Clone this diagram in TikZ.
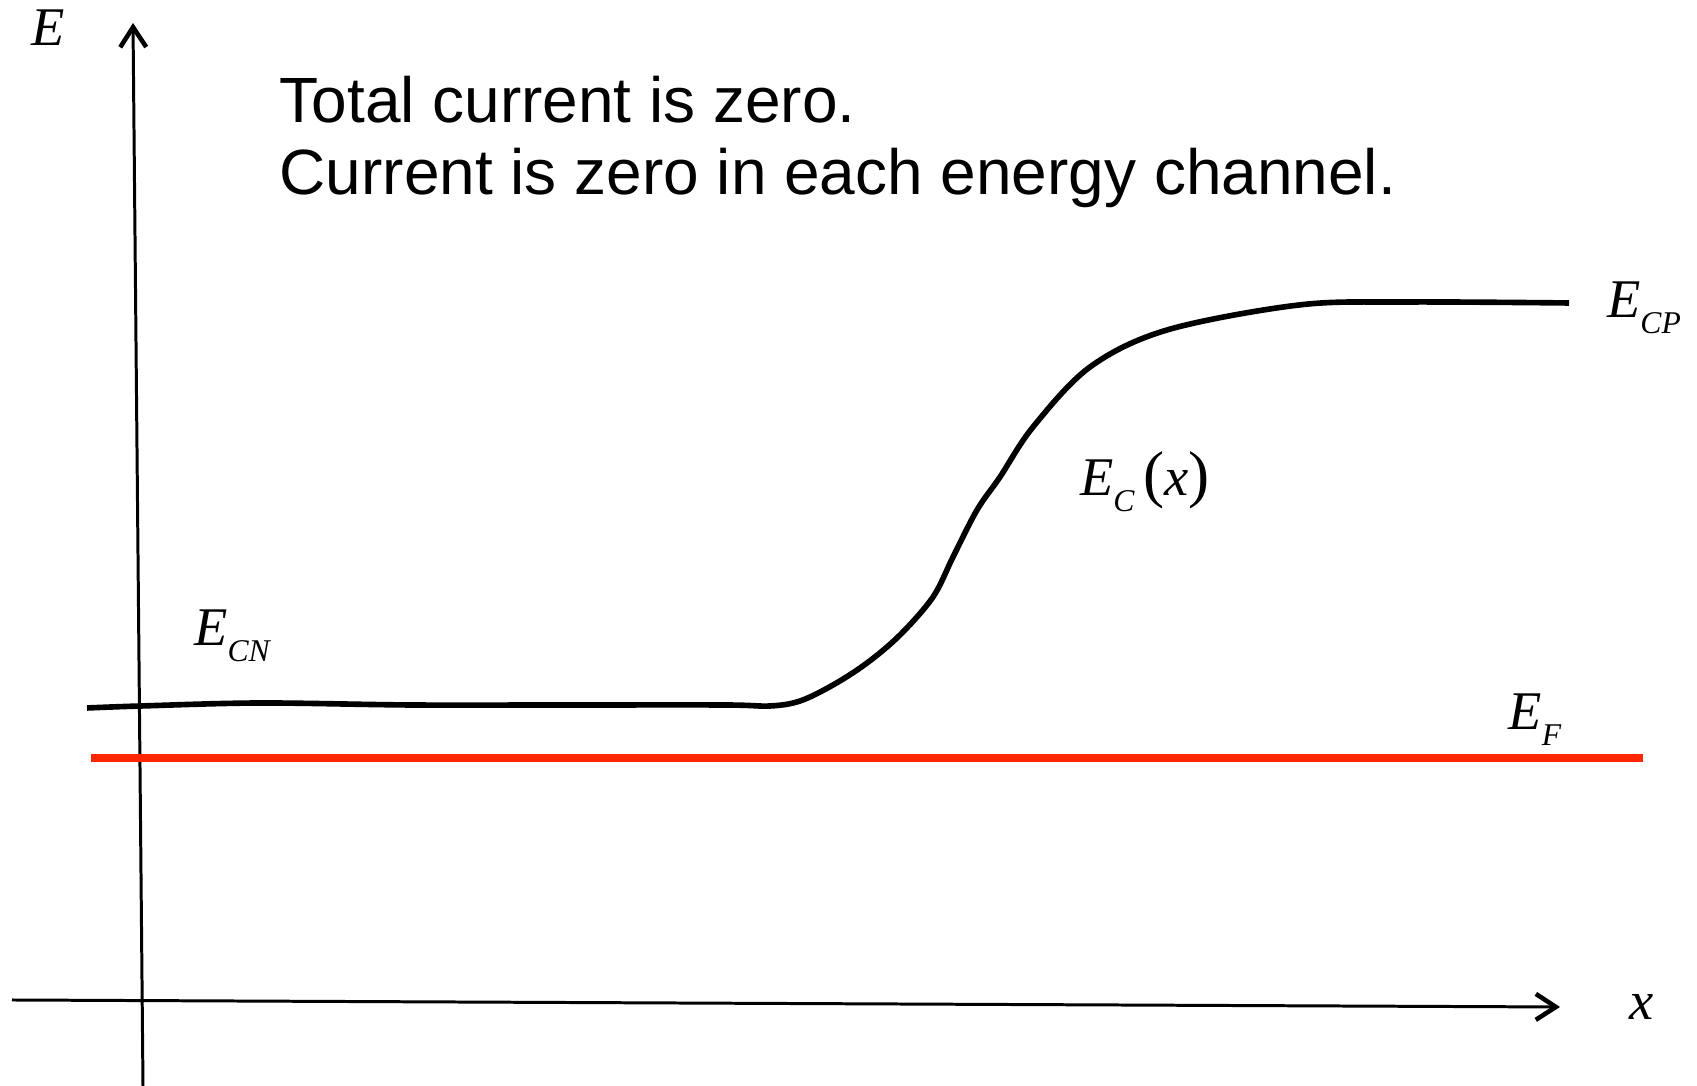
\documentclass[tikz,border=0pt]{standalone}
\usepackage{fontspec}
\setmainfont{Liberation Sans}
\newfontfamily\tms{Liberation Serif}
\usetikzlibrary{arrows.meta}
\definecolor{fermired}{RGB}{255,38,0}
% italic label with lowered subscript
\newcommand{\elab}[2]{{\tms\itshape #1\raisebox{-4.6pt}{\fontsize{9}{9}\selectfont #2}}}

\begin{document}
\begin{tikzpicture}[
    >={Straight Barb[length=2mm,width=2.6mm,line width=1.3pt]},
    axis/.style={->, line width=0.85pt},
    band/.style={line width=1.6pt, line join=round},
    fermi/.style={draw=fermired, line width=2pt},
    lab/.style={inner sep=0pt, font=\fontsize{15.5}{15.5}\selectfont}
]
\useasboundingbox (0,0) rectangle (16.97,10.86);

% Axes
\coordinate (ybot) at (1.43,0);
\coordinate (ytop) at (1.33,10.63);
\coordinate (xleft) at (0.12,0.86);
\coordinate (xright) at (15.60,0.79);
\draw[axis] (ybot) -- (ytop);
\draw[axis] (xleft) -- (xright);
\node[lab] (elabel) at (0.48,10.58) {{\tms\itshape E}};
\node[lab] (xlabel) at (16.42,0.79) {{\tms\itshape x}};

% Statement
\node[anchor=base west, inner sep=0pt, align=left, font=\fontsize{18.2}{20.6}\selectfont] (note) at (2.79,8.91)
    {Total current is zero.\\Current is zero in each energy channel.};

% Fermi level
\coordinate (fleft) at (0.91,3.28);
\coordinate (fright) at (16.43,3.28);
\draw[fermi] (fleft) -- (fright);

% Conduction band edge
\draw[band] plot[smooth, tension=0.55] coordinates {
    (0.87,3.78) (1.41,3.80) (2.60,3.83) (4.11,3.81) (5.63,3.81) (7.25,3.81)
    (7.70,3.80) (8.00,3.85) (8.33,4.01) (8.67,4.23) (9.00,4.51) (9.33,4.89)
    (9.53,5.29) (9.77,5.76) (10.00,6.09) (10.33,6.59) (10.90,7.19)
    (11.67,7.56) (12.99,7.81) (14.07,7.84) (15.69,7.83)};

% Labels
\node[lab] (ecp) at (16.44,7.78) {\elab{E}{CP}};
\node[lab] (ecx) at (11.45,6.04) {\elab{E}{C}\,{\tms\fontsize{18}{18}\selectfont(}{\tms\itshape x}{\tms\fontsize{18}{18}\selectfont)}};
\node[lab] (ecn) at (2.32,4.50) {\elab{E}{CN}};
\node[lab] (ef) at (15.35,3.66) {\elab{E}{F}};

\end{tikzpicture}
\end{document}
